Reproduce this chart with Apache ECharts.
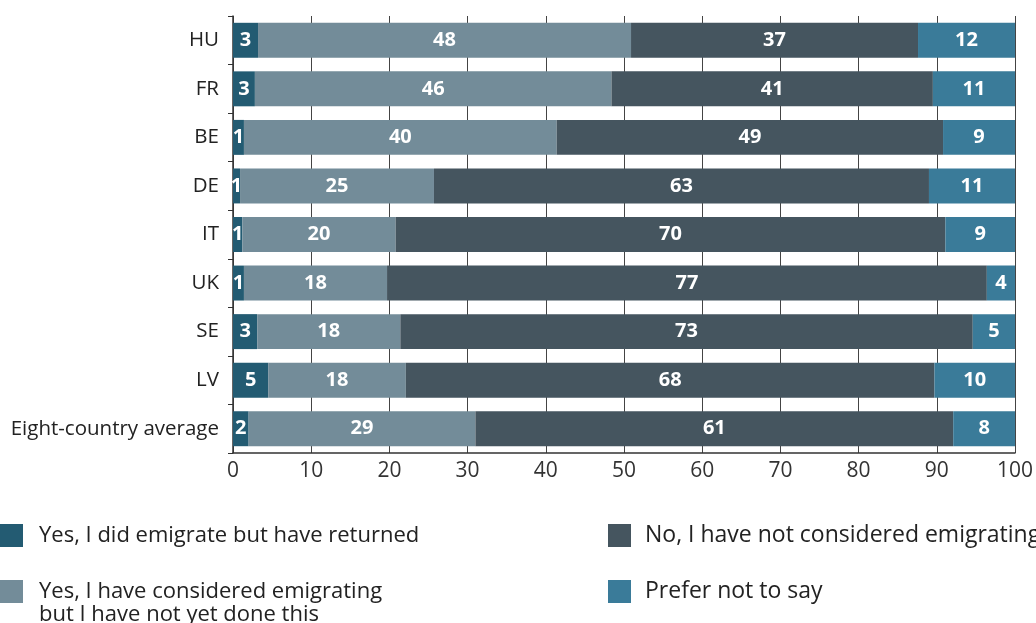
<!DOCTYPE html>
<html>
<head>
<meta charset="utf-8">
<script src="https://cdn.jsdelivr.net/npm/echarts@6/dist/echarts.min.js"></script>
<style>
html,body{margin:0;padding:0;background:#fff;}
#chart{width:1036px;height:623px;}
</style>
</head>
<body>
<div id="chart"></div>
<script>
var categories = ['HU', 'FR', 'BE', 'DE', 'IT', 'UK', 'SE', 'LV', 'Eight-country average'];
var seriesNames = [
  'Yes, I did emigrate but have returned',
  'Yes, I have considered emigrating\nbut I have not yet done this',
  'No, I have not considered emigrating',
  'Prefer not to say'
];
var returned   = [3.2, 2.8, 1.4, 0.9, 1.2, 1.4, 3.1, 4.5, 2.0];
var considered = [47.7, 45.6, 40.0, 24.8, 19.6, 18.3, 18.3, 17.6, 29.0];
var notConsidered = [36.7, 41.1, 49.4, 63.3, 70.3, 76.7, 73.2, 67.6, 61.1];
var preferNot  = [12.4, 10.5, 9.2, 11.0, 8.9, 3.6, 5.4, 10.3, 7.9];
var xTicks = [0, 10, 20, 30, 40, 50, 60, 70, 80, 90, 100];

var colors = ['#235b72', '#738c99', '#45555f', '#3a7b99'];
var FONT = 'Open Sans';

function mkSeries(name, data, color) {
  return {
    name: name, type: 'bar', stack: 'total', data: data,
    barWidth: '72%',
    itemStyle: {color: color},
    label: {
      show: true, position: 'inside', color: '#fff',
      fontFamily: FONT, fontWeight: 'bold', fontSize: 20,
      formatter: function (p) { return Math.round(p.value); }
    }
  };
}

function legendFormatter(name) {
  var lines = name.split('\n');
  var out = lines.map(function (l) { return '{g|}{t|' + l + '}'; });
  if (lines.length > 1) out.unshift('{g|}');
  return out.join('\n');
}

function mkLegend(name, left, top, fs, gap) {
  return {
    data: [name], left: left, top: top, orient: 'vertical', padding: 0,
    itemWidth: 23, itemHeight: 23, itemGap: 15, icon: 'rect',
    selectedMode: false,
    formatter: legendFormatter,
    textStyle: {
      color: '#222', fontFamily: FONT, fontSize: fs, lineHeight: 23,
      rich: {
        g: {width: gap, height: 23, lineHeight: 23},
        t: {color: '#222', fontFamily: FONT, fontSize: fs, lineHeight: 23}
      }
    }
  };
}

var chart = echarts.init(document.getElementById('chart'));
chart.setOption({
  animation: false,
  textStyle: {fontFamily: FONT},
  grid: {left: 233, right: 21, top: 16, bottom: 170, containLabel: false},
  legend: [
    mkLegend(seriesNames[0], 0, 524, 22, 11),
    mkLegend(seriesNames[1], 0, 557, 22, 11),
    mkLegend(seriesNames[2], 608, 524, 23, 9),
    mkLegend(seriesNames[3], 608, 580, 23, 9)
  ],
  xAxis: {
    type: 'value', min: xTicks[0], max: xTicks[xTicks.length - 1], interval: 10,
    axisLine: {show: true, lineStyle: {color: '#333', width: 1.5}},
    axisTick: {show: false},
    splitLine: {show: true, lineStyle: {color: '#444', width: 1}},
    axisLabel: {color: '#333', fontSize: 21, margin: 8, fontFamily: FONT}
  },
  yAxis: {
    type: 'category', data: categories, inverse: true,
    axisLine: {show: true, lineStyle: {color: '#333', width: 1.5}},
    axisTick: {show: true, length: 5, alignWithLabel: false, lineStyle: {color: '#333'}},
    axisLabel: {color: '#222', fontSize: 20.5, margin: 14, fontFamily: FONT}
  },
  series: [
    mkSeries(seriesNames[0], returned, colors[0]),
    mkSeries(seriesNames[1], considered, colors[1]),
    mkSeries(seriesNames[2], notConsidered, colors[2]),
    mkSeries(seriesNames[3], preferNot, colors[3])
  ]
});
</script>
</body>
</html>
